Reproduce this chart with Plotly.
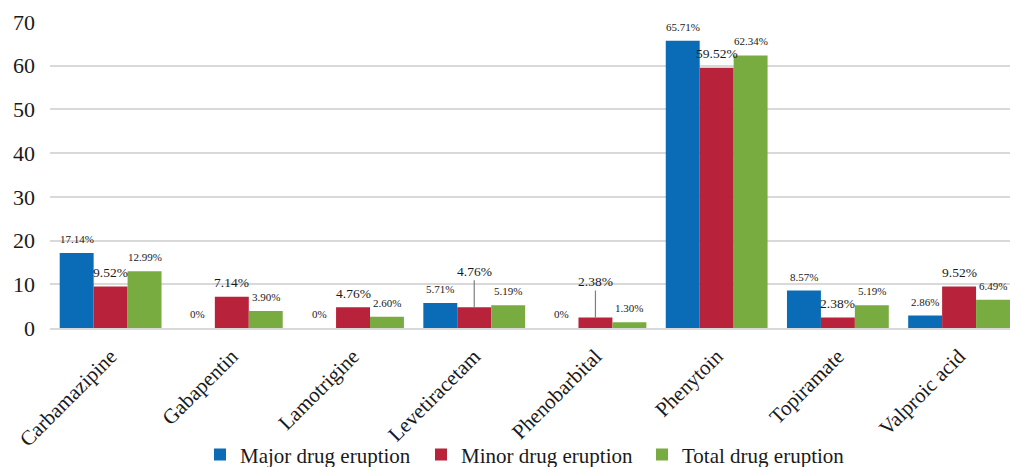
import plotly.graph_objects as go

categories = ["Carbamazipine", "Gabapentin", "Lamotrigine", "Levetiracetam",
              "Phenobarbital", "Phenytoin", "Topiramate", "Valproic acid"]
major = [17.14, 0, 0, 5.71, 0, 65.71, 8.57, 2.86]
minor = [9.52, 7.14, 4.76, 4.76, 2.38, 59.52, 2.38, 9.52]
total = [12.99, 3.90, 2.60, 5.19, 1.30, 62.34, 5.19, 6.49]
series_names = ["Major drug eruption", "Minor drug eruption", "Total drug eruption"]
colors = ["#0A6CB6", "#B8223A", "#78AC41"]
label_sizes = [11, 13.5, 11]
leader_labels = {(1, "Levetiracetam"), (1, "Phenobarbital")}

SERIF = "Liberation Serif, Times New Roman, DejaVu Serif, serif"
W, H = 1010, 467
ML, MR, MT, MB = 50, 0, 22, 139
xr = [-0.5, 7.42]
bargap = 0.16

fig = go.Figure()
all_series = [major, minor, total]
for name, vals, col in zip(series_names, all_series, colors):
    fig.add_trace(go.Bar(x=categories, y=vals, name=name, marker_color=col,
                         marker_line_width=0))

px_per_cat = (W - ML - MR) / (xr[1] - xr[0])
bar_w = px_per_cat * (1 - bargap) / 3

def fmt(v):
    return "0%" if v == 0 else f"{v:.2f}%"

for si, vals in enumerate(all_series):
    for cat, v in zip(categories, vals):
        xs = (si - 1) * bar_w
        fnt = dict(family=SERIF, size=label_sizes[si], color="#1a1a1a")
        if (si, cat) in leader_labels:
            fig.add_annotation(x=cat, y=v, xshift=xs, text=fmt(v), showarrow=True,
                               ax=0, ay=-36, arrowhead=0, arrowwidth=1.2,
                               arrowcolor="#7f7f7f", standoff=0, font=fnt)
        else:
            fig.add_annotation(x=cat, y=v, xshift=xs, yshift=14, text=fmt(v),
                               showarrow=False, font=fnt)

fig.update_layout(
    width=W, height=H,
    margin=dict(l=ML, r=MR, t=MT, b=MB, pad=0, autoexpand=False),
    barmode="group", bargap=bargap, bargroupgap=0,
    plot_bgcolor="white", paper_bgcolor="white",
    font=dict(family=SERIF, color="#1a1a1a"),
    showlegend=True,
    legend=dict(orientation="h", x=200 / W, xref="container", xanchor="left",
                y=0.026, yref="container", yanchor="middle",
                font=dict(family=SERIF, size=21, color="#1a1a1a"),
                entrywidth=176, entrywidthmode="pixels", itemwidth=30,
                bgcolor="rgba(0,0,0,0)"),
    xaxis=dict(type="category", range=xr, tickangle=-45, showgrid=False,
               showline=True, linecolor="#d9d9d9", linewidth=1.5, ticks="",
               automargin=False, ticklabelstandoff=6,
               tickfont=dict(family=SERIF, size=21, color="#1a1a1a")),
    yaxis=dict(range=[0, 70], dtick=10, showgrid=True, gridcolor="#d9d9d9", gridwidth=1.5,
               zeroline=False, showline=False, ticks="", ticklabelstandoff=14,
               automargin=False,
               tickfont=dict(family=SERIF, size=22, color="#1a1a1a")),
)

fig.write_html("out.html")
